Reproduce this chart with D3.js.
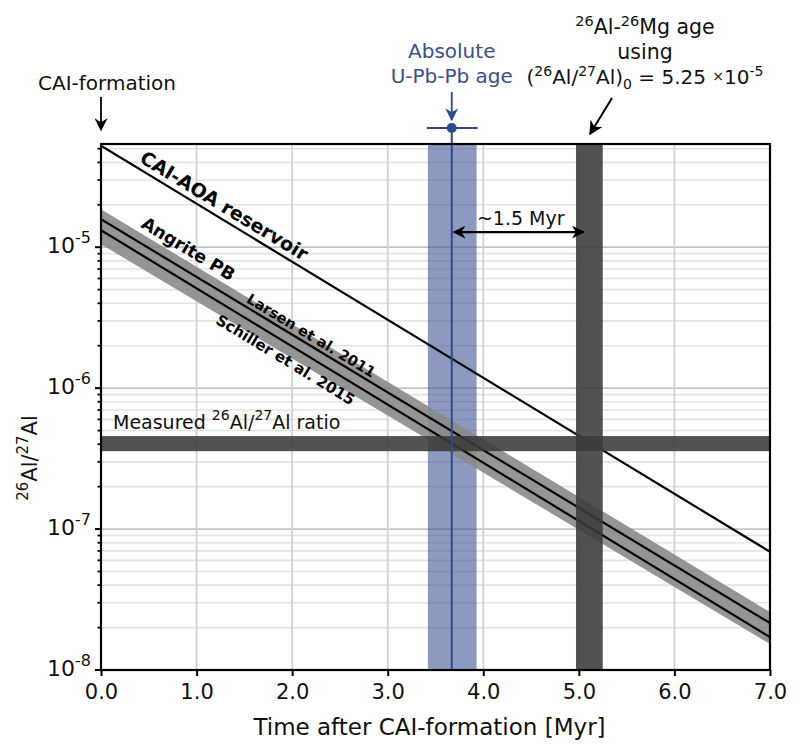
<!DOCTYPE html>
<html><head><meta charset="utf-8">
<script src="https://cdn.jsdelivr.net/npm/d3@7"></script>
<style>
body{margin:0;background:#fff;}
text{font-family:"DejaVu Sans",sans-serif;}
</style></head>
<body><svg id="chart" width="800" height="755"></svg>
<script>
// ---------- data ----------
const xTicks = [0, 1, 2, 3, 4, 5, 6, 7];
const xTickLabels = ["0.0", "1.0", "2.0", "3.0", "4.0", "5.0", "6.0", "7.0"];
const yDecadeExps = [-8, -7, -6, -5];
const yDomain = [1e-8, 5.4e-5];
const xDomain = [0, 7];
const times = [0, 7];
const caiAoa = [5.25e-5, 6.9e-8];
const larsen = [1.58e-5, 2.15e-8];
const schiller = [1.32e-5, 1.71e-8];
const angriteHi = [1.86e-5, 2.58e-8];
const angriteLo = [1.05e-5, 1.53e-8];
const measuredRange = [3.57e-7, 4.57e-7];
const upbAge = 3.67;
const upbRange = [3.42, 3.93];
const almgRange = [4.97, 5.25];
const almgAge = 5.05;

// ---------- layout ----------
const svg = d3.select("#chart");
const L = 101, R = 770, T = 144, B = 670;
const x = d3.scaleLinear().domain(xDomain).range([L, R]);
const y = d3.scaleLog().domain(yDomain).range([B, T]);

const defs = svg.append("defs");
function marker(id, color, size) {
  defs.append("marker").attr("id", id).attr("viewBox", "0 0 10 10")
    .attr("refX", 9).attr("refY", 5).attr("markerWidth", size).attr("markerHeight", size)
    .attr("orient", "auto-start-reverse").attr("markerUnits", "userSpaceOnUse")
    .append("path").attr("d", "M0,0 L10,5 L0,10 L3,5 Z").attr("fill", color);
}
marker("arrK", "#000", 13);
marker("arrB", "#2e4a8a", 13);
marker("arrK2", "#000", 14);

const clip = defs.append("clipPath").attr("id", "plotclip");
clip.append("rect").attr("x", L).attr("y", T).attr("width", R - L).attr("height", B - T);

const g = svg.append("g").attr("clip-path", "url(#plotclip)");

// grid
const minorVals = [];
yDecadeExps.forEach(e => { for (let k = 2; k <= 9; k++) { const v = k * Math.pow(10, e); if (v < yDomain[1]) minorVals.push(v); } });
const majorVals = yDecadeExps.map(e => Math.pow(10, e));
g.selectAll(".minor").data(minorVals).join("line")
  .attr("x1", L).attr("x2", R).attr("y1", d => y(d)).attr("y2", d => y(d))
  .attr("stroke", "#e3e3e3").attr("stroke-width", 1.6);
g.selectAll(".major").data(majorVals).join("line")
  .attr("x1", L).attr("x2", R).attr("y1", d => y(d)).attr("y2", d => y(d))
  .attr("stroke", "#c4c4c4").attr("stroke-width", 1.8);
g.selectAll(".vgrid").data(xTicks).join("line")
  .attr("x1", d => x(d)).attr("x2", d => x(d)).attr("y1", T).attr("y2", B)
  .attr("stroke", "#d2d2d2").attr("stroke-width", 1.8);

// blue U-Pb-Pb band
g.append("rect").attr("x", x(upbRange[0])).attr("width", x(upbRange[1]) - x(upbRange[0]))
  .attr("y", T).attr("height", B - T).attr("fill", "#3d4f96").attr("opacity", 0.58);

// angrite band
const bandArea = d3.area().x((d, i) => x(times[i])).y0((d, i) => y(angriteLo[i])).y1((d, i) => y(angriteHi[i]));
g.append("path").datum(times).attr("d", bandArea).attr("fill", "#8a8a8a").attr("opacity", 0.9);

const lineGen = arr => d3.line().x((d, i) => x(times[i])).y((d, i) => y(arr[i]))(times);
[caiAoa, larsen, schiller].forEach(arr => {
  g.append("path").attr("d", lineGen(arr)).attr("fill", "none").attr("stroke", "#000").attr("stroke-width", 2.2);
});

// dark bands
g.append("rect").attr("x", L).attr("width", R - L)
  .attr("y", y(measuredRange[1])).attr("height", y(measuredRange[0]) - y(measuredRange[1]))
  .attr("fill", "#3a3a3a").attr("opacity", 0.88);
g.append("rect").attr("x", x(almgRange[0])).attr("width", x(almgRange[1]) - x(almgRange[0]))
  .attr("y", T).attr("height", B - T).attr("fill", "#3a3a3c").attr("opacity", 0.88);

// blue line
svg.append("line").attr("x1", x(upbAge)).attr("x2", x(upbAge)).attr("y1", T - 16).attr("y2", B)
  .attr("stroke", "#2e4a8a").attr("stroke-width", 2);
svg.append("line").attr("x1", x(upbRange[0]) - 1).attr("x2", x(upbRange[1]) + 1).attr("y1", T - 16).attr("y2", T - 16)
  .attr("stroke", "#2e4a8a").attr("stroke-width", 2.2);
svg.append("circle").attr("cx", x(upbAge)).attr("cy", T - 16).attr("r", 5).attr("fill", "#2e4a8a");

// frame
svg.append("rect").attr("x", L).attr("y", T).attr("width", R - L).attr("height", B - T)
  .attr("fill", "none").attr("stroke", "#000").attr("stroke-width", 2.2);

// axes ticks
const xAxis = d3.axisBottom(x).tickValues(xTicks).tickFormat((d, i) => xTickLabels[i]).tickSize(6).tickPadding(8);
const xa = svg.append("g").attr("transform", `translate(0,${B})`).call(xAxis);
xa.select(".domain").remove();
xa.selectAll("line").attr("stroke-width", 2);
xa.selectAll("text").attr("font-size", 21).attr("fill", "#111").attr("dy", "0.72em");

const ya = svg.append("g");
ya.selectAll(".ymaj").data(majorVals).join("line")
  .attr("x1", L - 6).attr("x2", L).attr("y1", d => y(d)).attr("y2", d => y(d)).attr("stroke", "#000").attr("stroke-width", 2);
ya.selectAll(".ymin").data(minorVals).join("line")
  .attr("x1", L - 3.5).attr("x2", L).attr("y1", d => y(d)).attr("y2", d => y(d)).attr("stroke", "#000").attr("stroke-width", 1.8);
const ylab = ya.selectAll(".ylab").data(yDecadeExps).join("text")
  .attr("x", L - 10).attr("y", d => y(Math.pow(10, d)) + 6).attr("text-anchor", "end").attr("font-size", 22).attr("fill", "#111");
ylab.append("tspan").text("10");
ylab.append("tspan").attr("dy", -10).attr("font-size", 16).text(d => "-" + (-d));

// axis titles
svg.append("text").attr("x", (L + R) / 2 - 6).attr("y", 735).attr("text-anchor", "middle").attr("font-size", 23).attr("fill", "#111")
  .text("Time after CAI-formation [Myr]");
const yt = svg.append("text").attr("transform", "translate(37,458) rotate(-90)").attr("text-anchor", "middle").attr("font-size", 21).attr("fill", "#111");
yt.append("tspan").attr("dy", -9).attr("font-size", 15).text("26");
yt.append("tspan").attr("dy", 9).text("Al/");
yt.append("tspan").attr("dy", -9).attr("font-size", 15).text("27");
yt.append("tspan").attr("dy", 9).text("Al");

// line labels
function lineLabel(arr, t, off, txt, size) {
  const a = Math.atan2(y(arr[1]) - y(arr[0]), x(times[1]) - x(times[0])) * 180 / Math.PI;
  const yt0 = Math.exp(Math.log(arr[0]) + (Math.log(arr[1]) - Math.log(arr[0])) * (t - times[0]) / (times[1] - times[0]));
  svg.append("text").attr("transform", `translate(${x(t)},${y(yt0)}) rotate(${a})`)
    .attr("y", off).attr("font-size", size).attr("font-weight", "bold").attr("fill", "#000").text(txt);
}
lineLabel(caiAoa, 0.36, -6, "CAI-AOA reservoir", 19);
lineLabel(angriteHi, 0.38, -5, "Angrite PB", 17.5);
lineLabel(larsen, 1.49, -4, "Larsen et al. 2011", 14.5);
lineLabel(schiller, 1.30, 20, "Schiller et al. 2015", 15);

// measured label
const ml = svg.append("text").attr("x", L + 12).attr("y", y(measuredRange[1]) - 7).attr("font-size", 19).attr("fill", "#111");
ml.append("tspan").text("Measured ");
ml.append("tspan").attr("dy", -9).attr("font-size", 14).text("26");
ml.append("tspan").attr("dy", 9).text("Al/");
ml.append("tspan").attr("dy", -9).attr("font-size", 14).text("27");
ml.append("tspan").attr("dy", 9).text("Al ratio");

// ~1.5 Myr arrow
const arrowY = 1.28e-5;
svg.append("line").attr("x1", x(upbAge) + 2).attr("x2", x(almgAge)).attr("y1", y(arrowY)).attr("y2", y(arrowY))
  .attr("stroke", "#000").attr("stroke-width", 2.2)
  .attr("marker-start", "url(#arrK)").attr("marker-end", "url(#arrK)");
svg.append("text").attr("x", (x(upbAge) + x(almgAge)) / 2 + 3).attr("y", y(arrowY) - 7).attr("text-anchor", "middle")
  .attr("font-size", 19).attr("fill", "#111").text("~1.5 Myr");

// top annotations
svg.append("text").attr("x", 107).attr("y", 90).attr("text-anchor", "middle").attr("font-size", 20).attr("fill", "#111").text("CAI-formation");
svg.append("line").attr("x1", x(0)).attr("x2", x(0)).attr("y1", 97).attr("y2", 130)
  .attr("stroke", "#000").attr("stroke-width", 1.8).attr("marker-end", "url(#arrK)");

svg.append("text").attr("x", x(upbAge)).attr("y", 58).attr("text-anchor", "middle").attr("font-size", 20).attr("fill", "#3a4f8c").text("Absolute");
svg.append("text").attr("x", x(upbAge)).attr("y", 83).attr("text-anchor", "middle").attr("font-size", 20).attr("fill", "#3a4f8c").text("U-Pb-Pb age");
svg.append("line").attr("x1", x(upbAge)).attr("x2", x(upbAge)).attr("y1", 92).attr("y2", 120)
  .attr("stroke", "#2e4a8a").attr("stroke-width", 1.8).attr("marker-end", "url(#arrB)");

const cx = 645;
const t1 = svg.append("text").attr("x", cx).attr("y", 34).attr("text-anchor", "middle").attr("font-size", 20.5).attr("fill", "#111");
t1.append("tspan").attr("dy", -8).attr("font-size", 14.5).text("26");
t1.append("tspan").attr("dy", 8).text("Al-");
t1.append("tspan").attr("dy", -8).attr("font-size", 14.5).text("26");
t1.append("tspan").attr("dy", 8).text("Mg age");
svg.append("text").attr("x", cx).attr("y", 59).attr("text-anchor", "middle").attr("font-size", 20.5).attr("fill", "#111").text("using");
const t3 = svg.append("text").attr("x", cx).attr("y", 84).attr("text-anchor", "middle").attr("font-size", 20).attr("fill", "#111");
t3.append("tspan").text("(");
t3.append("tspan").attr("dy", -8).attr("font-size", 14).text("26");
t3.append("tspan").attr("dy", 8).text("Al/");
t3.append("tspan").attr("dy", -8).attr("font-size", 14).text("27");
t3.append("tspan").attr("dy", 8).text("Al)");
t3.append("tspan").attr("dy", 5).attr("font-size", 14).text("0");
t3.append("tspan").attr("dy", -5).text(" = 5.25 ");
t3.append("tspan").attr("dy", -3).attr("font-size", 14).text("×");
t3.append("tspan").attr("dy", 3).text("10");
t3.append("tspan").attr("dy", -8).attr("font-size", 14).text("-5");
svg.append("line").attr("x1", 612).attr("y1", 98).attr("x2", 590).attr("y2", 134)
  .attr("stroke", "#000").attr("stroke-width", 2).attr("marker-end", "url(#arrK2)");
</script></body></html>
